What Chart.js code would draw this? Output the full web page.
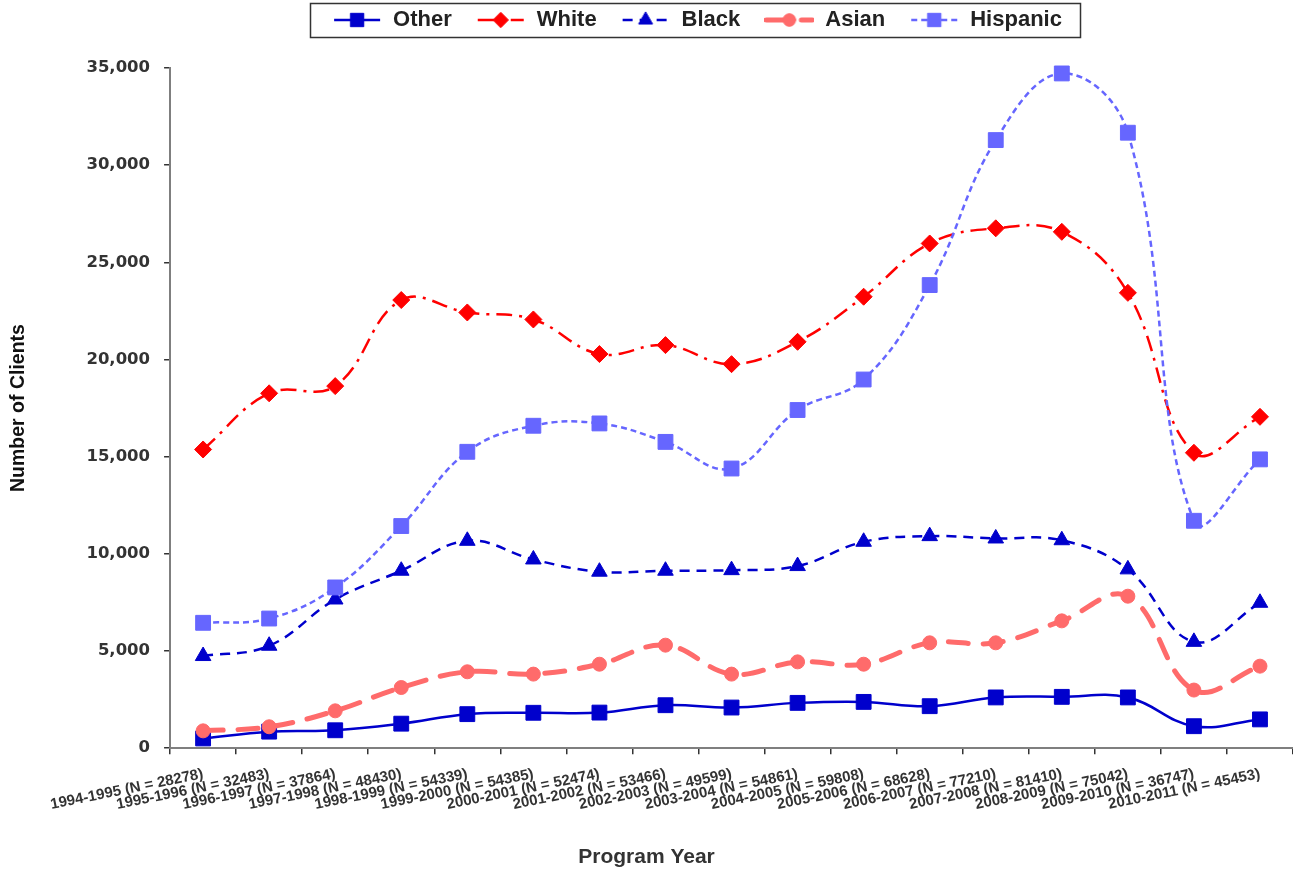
<!DOCTYPE html>
<html>
<head>
<meta charset="utf-8">
<script src="https://cdn.jsdelivr.net/npm/chart.js@4.4.0/dist/chart.umd.min.js"></script>
<style>
  html, body { margin: 0; padding: 0; background: #ffffff; }
  #wrap { width: 1293px; height: 871px; }
</style>
</head>
<body>
<div id="wrap"><canvas id="c" width="1293" height="871"></canvas></div>
<script>
const categories = [
  '1994-1995 (N = 28278)', '1995-1996 (N = 32483)', '1996-1997 (N = 37864)',
  '1997-1998 (N = 48430)', '1998-1999 (N = 54339)', '1999-2000 (N = 54385)',
  '2000-2001 (N = 52474)', '2001-2002 (N = 53466)', '2002-2003 (N = 49599)',
  '2003-2004 (N = 54861)', '2004-2005 (N = 59808)', '2005-2006 (N = 68628)',
  '2006-2007 (N = 77210)', '2007-2008 (N = 81410)', '2008-2009 (N = 75042)',
  '2009-2010 (N = 36747)', '2010-2011 (N = 45453)'
];
const seriesNames = ['Other', 'White', 'Black', 'Asian', 'Hispanic'];
const otherValues    = [500, 850, 920, 1260, 1750, 1820, 1830, 2210, 2090, 2330, 2380, 2160, 2610, 2640, 2610, 1130, 1480];
const whiteValues    = [15370, 18260, 18630, 23060, 22420, 22060, 20280, 20740, 19760, 20910, 23230, 25970, 26750, 26570, 23430, 15200, 17050];
const blackValues    = [4740, 5270, 7650, 9130, 10670, 9710, 9080, 9130, 9160, 9370, 10620, 10910, 10790, 10700, 9200, 5470, 7480];
const asianValues    = [890, 1100, 1920, 3120, 3930, 3810, 4320, 5300, 3810, 4440, 4320, 5420, 5420, 6550, 7820, 2990, 4220];
const hispanicValues = [6450, 6670, 8270, 11430, 15250, 16590, 16710, 15760, 14390, 17400, 18970, 23830, 31290, 34720, 31670, 11700, 14860];
const yTickValues = [0, 5000, 10000, 15000, 20000, 25000, 30000, 35000];

const SANS = "'Liberation Sans', Arial, Helvetica, sans-serif";

const datasets = [
  { label: seriesNames[0], data: otherValues, borderColor: '#0000CC', backgroundColor: '#0000CC',
    pointBackgroundColor: '#0000CC', pointBorderColor: '#0000CC', borderWidth: 2.5, borderDash: [],
    pointStyle: 'rect', pointRadius: 10.5, order: 4 },
  { label: seriesNames[1], data: whiteValues, borderColor: '#FF0000', backgroundColor: '#FF0000',
    pointBackgroundColor: '#FF0000', pointBorderColor: '#FF0000', borderWidth: 2.5, borderDash: [16, 7, 3, 7],
    pointStyle: 'rectRot', pointRadius: 8.5, order: 3 },
  { label: seriesNames[2], data: blackValues, borderColor: '#0000CC', backgroundColor: '#0000CC',
    pointBackgroundColor: '#0000CC', pointBorderColor: '#0000CC', borderWidth: 2.5, borderDash: [10, 7],
    pointStyle: 'triangle', pointRadius: 9, order: 2 },
  { label: seriesNames[3], data: asianValues, borderColor: '#FF6B6B', backgroundColor: '#FF6B6B',
    pointBackgroundColor: '#FF6B6B', pointBorderColor: '#FF6B6B', borderWidth: 5, borderDash: [20, 15],
    borderCapStyle: 'round', pointStyle: 'circle', pointRadius: 7, order: 1 },
  { label: seriesNames[4], data: hispanicValues, borderColor: '#6666FF', backgroundColor: '#6666FF',
    pointBackgroundColor: '#6666FF', pointBorderColor: '#6666FF', borderWidth: 2.5, borderDash: [6, 4],
    pointStyle: 'rect', pointRadius: 10.5, order: 0 }
].map(d => Object.assign({ tension: 0.4, fill: false, pointBorderWidth: 1, clip: false,
  pointHoverRadius: d.pointRadius }, d));

function makeSample(ds) {
  const c = document.createElement('canvas');
  c.width = 50; c.height = 22;
  const g = c.getContext('2d');
  g.strokeStyle = ds.borderColor;
  g.lineWidth = ds.borderWidth;
  g.lineCap = ds.borderCapStyle || 'butt';
  g.setLineDash(ds.borderDash || []);
  g.beginPath(); g.moveTo(2, 11); g.lineTo(48, 11); g.stroke();
  g.setLineDash([]);
  g.fillStyle = ds.pointBackgroundColor;
  g.strokeStyle = ds.pointBorderColor;
  g.lineWidth = 1;
  Chart.helpers.drawPoint(g, { pointStyle: ds.pointStyle, radius: ds.pointRadius * 0.9, borderWidth: 1, rotation: 0 }, 25, 11);
  return c;
}

const legendFix = {
  id: 'legendFix',
  beforeInit(chart) {
    const lg = chart.legend;
    const orig = lg.fit;
    lg.fit = function () { orig.call(this); this.height = 68; };
  },
  afterLayout(chart) {
    const lg = chart.legend;
    const pad = lg.options.labels.padding;
    const lw = lg.lineWidths[0];
    const targetCenter = 697;
    const rowLeft = targetCenter - (lw - pad) / 2;
    lg.left = 2 * rowLeft - pad - lg.right + lw;
    lg.top = -15;
  },
  afterDraw(chart) {
    const hb = chart.legend.legendHitBoxes;
    if (!hb || !hb.length) return;
    const L = Math.min(...hb.map(h => h.left)) - 22;
    const R = Math.max(...hb.map(h => h.left + h.width)) + 18;
    const ctx = chart.ctx;
    ctx.save();
    ctx.strokeStyle = '#333';
    ctx.lineWidth = 1.5;
    ctx.strokeRect(Math.round(L) + 0.5, 3.5, Math.round(R - L), 34);
    ctx.restore();
  }
};

const chart = new Chart(document.getElementById('c').getContext('2d'), {
  type: 'line',
  data: { labels: categories, datasets: datasets },
  options: {
    responsive: false,
    animation: false,
    events: [],
    layout: { autoPadding: false, padding: { left: 0, right: 0, top: 0, bottom: 0 } },
    plugins: {
      tooltip: { enabled: false },
      legend: {
        display: true,
        position: 'top',
        align: 'center',
        labels: {
          usePointStyle: true,
          pointStyleWidth: 50,
          boxHeight: 22,
          padding: 24,
          color: '#222',
          font: { family: SANS, size: 22, weight: 'bold' },
          generateLabels(ch) {
            return ch.data.datasets.map((ds, i) => ({
              text: ds.label,
              pointStyle: makeSample(ds),
              fillStyle: ds.borderColor,
              strokeStyle: ds.borderColor,
              lineWidth: 0,
              hidden: false,
              datasetIndex: i,
              fontColor: '#222'
            }));
          }
        }
      }
    },
    scales: {
      x: {
        type: 'category',
        offset: true,
        afterFit(scale) { scale.paddingRight = 0; },
        afterUpdate(scale) {
          if (scale._titlePatched) return;
          const orig = scale.drawTitle;
          scale.drawTitle = function () {
            const l = this.left, r = this.right;
            this.left = 0; this.right = this.chart.width;
            orig.call(this);
            this.left = l; this.right = r;
          };
          scale._titlePatched = true;
        },
        grid: { display: true, offset: true, drawOnChartArea: false, drawTicks: true, tickLength: 6, color: '#333', lineWidth: 1.5 },
        border: { display: true, color: '#7f7f7f', width: 2 },
        ticks: {
          autoSkip: false, minRotation: 11.5, maxRotation: 11.5, padding: 11,
          color: '#333', font: { family: SANS, size: 15, weight: 'bold' }
        },
        title: {
          display: true, text: 'Program Year', color: '#333',
          font: { family: SANS, size: 21, weight: 'bold' },
          padding: { top: 20, bottom: 1 }
        }
      },
      y: {
        min: 0, max: 35000,
        afterBuildTicks(scale) { scale.ticks = yTickValues.map(v => ({ value: v })); },
        grid: { display: true, drawOnChartArea: false, drawTicks: true, tickLength: 6, color: '#333', lineWidth: 1.5 },
        border: { display: true, color: '#7f7f7f', width: 2 },
        ticks: {
          padding: 14, color: '#333',
          font: { family: "'DejaVu Sans', Verdana, sans-serif", size: 16.5, weight: 'bold' },
          callback: v => Number(v).toLocaleString('en-US')
        },
        title: {
          display: true, text: 'Number of Clients', color: '#111',
          font: { family: SANS, size: 19.5, weight: 'bold' },
          padding: { top: 7, bottom: 42 }
        }
      }
    }
  },
  plugins: [legendFix]
});
</script>
</body>
</html>
